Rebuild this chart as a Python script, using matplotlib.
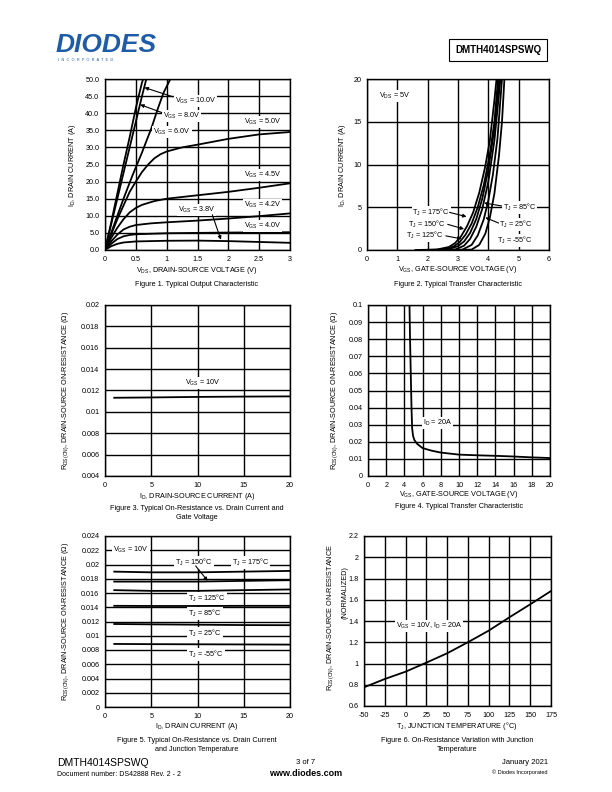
import matplotlib
matplotlib.use("Agg")
import matplotlib.pyplot as plt

plt.rcParams['font.family'] = ['Liberation Sans', 'DejaVu Sans']
plt.rcParams['mathtext.fontset'] = 'custom'
plt.rcParams['mathtext.rm'] = 'Liberation Sans'
plt.rcParams['mathtext.it'] = 'Liberation Sans:italic'
plt.rcParams['mathtext.bf'] = 'Liberation Sans:bold'
plt.rcParams['axes.unicode_minus'] = False

# ---- data ----
# Fig 1: output characteristic, (VDS, ID) per VGS
f1_v10 = [0, 0.1, 0.2, 0.3, 0.4, 0.5, 0.6, 0.62]
f1_i10 = [0, 8, 16.5, 25, 33, 41.5, 49, 50]
f1_v8 = [0, 0.1, 0.2, 0.3, 0.4, 0.5, 0.6, 0.67]
f1_i8 = [0, 7.5, 15, 22.5, 30, 37.5, 45, 50]
f1_v6 = [0, 0.1, 0.2, 0.3, 0.45, 0.6, 0.67, 0.75, 0.86, 0.95, 1.06]
f1_i6 = [0, 5, 10, 15, 22, 28.5, 31.8, 35.5, 41.5, 46, 50]
f1_v5 = [0, 0.1, 0.2, 0.3, 0.4, 0.5, 0.6, 0.7, 0.8, 0.9, 1.0, 1.25, 1.5, 2.0, 2.5, 3.0]
f1_i5 = [0, 4.5, 9, 13, 17, 20, 22.8, 25, 26.8, 28, 28.8, 30, 30.8, 32.5, 33.8, 34.5]
f1_v45 = [0, 0.1, 0.2, 0.3, 0.4, 0.5, 0.6, 0.8, 1.0, 1.5, 2.0, 2.5, 3.0]
f1_i45 = [0, 3.5, 6.5, 9, 11, 12.3, 13.2, 14.3, 15, 16, 17, 18.2, 19.5]
f1_v42 = [0, 0.1, 0.2, 0.3, 0.4, 0.5, 0.75, 1.0, 1.5, 2.0, 2.5, 3.0]
f1_i42 = [0, 2.5, 4.5, 6, 6.8, 7.3, 7.8, 8.1, 8.6, 9.2, 9.9, 10.7]
f1_v40 = [0, 0.1, 0.2, 0.3, 0.4, 0.5, 1.0, 1.5, 2.0, 2.5, 3.0]
f1_i40 = [0, 1.8, 3.2, 4, 4.4, 4.6, 4.9, 5.0, 5.1, 5.15, 5.2]
f1_v38 = [0, 0.1, 0.2, 0.3, 0.5, 1.0, 1.5, 2.0, 2.5, 3.0]
f1_i38 = [0, 1.1, 1.8, 2.2, 2.5, 2.7, 2.75, 2.6, 2.35, 2.1]

# Fig 2: transfer characteristic, (VGS, ID) per TJ
f2_v175 = [1.6, 2.3, 2.7, 2.9, 3.1, 3.3, 3.5, 3.7, 3.9, 4.05, 4.2, 4.27]
f2_i175 = [0, 0.05, 0.35, 0.8, 1.6, 2.8, 4.4, 6.7, 9.8, 12.8, 17.5, 20]
f2_v150 = [1.8, 2.5, 2.85, 3.05, 3.25, 3.45, 3.65, 3.85, 4.05, 4.2, 4.32]
f2_i150 = [0, 0.05, 0.4, 0.9, 1.8, 3.1, 5.0, 7.6, 11.2, 15, 20]
f2_v125 = [2.0, 2.65, 3.0, 3.2, 3.4, 3.6, 3.8, 4.0, 4.2, 4.36]
f2_i125 = [0, 0.05, 0.45, 1.0, 2.0, 3.6, 6.0, 9.4, 14.2, 20]
f2_v85 = [2.3, 2.9, 3.2, 3.4, 3.6, 3.8, 4.0, 4.2, 4.4]
f2_i85 = [0, 0.05, 0.5, 1.3, 2.7, 4.8, 8.0, 12.8, 20]
f2_v25 = [2.6, 3.15, 3.45, 3.65, 3.85, 4.0, 4.15, 4.3, 4.45]
f2_i25 = [0, 0.05, 0.6, 1.7, 3.6, 5.8, 8.8, 13, 20]
f2_vm55 = [3.0, 3.45, 3.7, 3.9, 4.05, 4.2, 4.35, 4.45, 4.53]
f2_im55 = [0, 0.05, 0.6, 1.9, 3.8, 6.6, 11, 15, 20]

# Fig 3: RDS(ON) vs ID at VGS = 10V
f3_id = [1, 5, 8, 10, 15, 20]
f3_r = [0.01132, 0.01135, 0.01138, 0.0114, 0.01143, 0.01145]

# Fig 4: RDS(ON) vs VGS at ID = 20A
f4_vgs = [4.56, 4.62, 4.7, 4.78, 4.85, 4.95, 5.1, 5.4, 6, 7, 8, 10, 12, 14, 16, 18, 20]
f4_r = [0.1, 0.08, 0.06, 0.04, 0.028, 0.0235, 0.021, 0.0188, 0.0163, 0.0148,
        0.0137, 0.0125, 0.0121, 0.0118, 0.0114, 0.0109, 0.0105]

# Fig 5: RDS(ON) vs ID per TJ
f5_id = [1, 5, 10, 15, 20]
f5_rm55 = [0.00885, 0.00882, 0.0088, 0.00878, 0.00876]
f5_r25 = [0.01165, 0.0116, 0.01155, 0.0115, 0.01148]
f5_r85 = [0.0142, 0.01418, 0.01418, 0.0142, 0.0142]
f5_r125 = [0.0164, 0.0163, 0.0163, 0.0164, 0.0165]
f5_r150 = [0.0176, 0.0176, 0.0176, 0.0177, 0.0178]
f5_r175 = [0.0190, 0.0189, 0.0189, 0.0190, 0.0191]

# Fig 6: normalized RDS(ON) vs TJ
f6_tj = [-50, -25, 0, 25, 50, 75, 100, 125, 150, 175]
f6_r = [0.776, 0.854, 0.923, 1.008, 1.096, 1.2, 1.309, 1.435, 1.557, 1.682]

W, H = 612, 792
fig = plt.figure(figsize=(W / 100, H / 100), dpi=100)

FS = 5.2
LW = 1.3
box = dict(facecolor='white', edgecolor='none', pad=0.6)


def add_ax(l, t, r, b):
    ax = fig.add_axes([l / W, 1 - b / H, (r - l) / W, (b - t) / H])
    ax.grid(True, color='black', linewidth=1.0)
    ax.set_axisbelow(True)
    for s in ax.spines.values():
        s.set_linewidth(1.0)
    ax.tick_params(length=0, pad=4, labelsize=FS)
    return ax


def ftext(x, y, s, **kw):
    kw.setdefault('fontsize', FS)
    fig.text(x / W, 1 - y / H, s, **kw)


def arrow(ax, start, end):
    ax.annotate('', xy=end, xytext=start,
                arrowprops=dict(arrowstyle='-|>', color='black', lw=0.8,
                                mutation_scale=5, shrinkA=0, shrinkB=0))


def lab(ax, x, y, s, ha='left'):
    ax.text(x, y, s, fontsize=FS, ha=ha, va='center', bbox=box)


# header
ftext(56, 45, 'DIODES', fontsize=19, fontweight='bold', style='italic',
      color='#1f5ca8', va='center', ha='left')
ftext(58, 60, 'I  N  C  O  R  P  O  R  A  T  E  D', fontsize=2.8, color='#1f5ca8',
      va='center', ha='left')
ftext(498, 50, 'DMTH4014SPSWQ', fontsize=7, fontweight='bold', ha='center', va='center',
      bbox=dict(facecolor='white', edgecolor='black', linewidth=0.8, pad=4))

# ---- Figure 1 ----
ax1 = add_ax(105, 79, 290, 250)
for v, i in [(f1_v10, f1_i10), (f1_v8, f1_i8), (f1_v6, f1_i6), (f1_v5, f1_i5),
             (f1_v45, f1_i45), (f1_v42, f1_i42), (f1_v40, f1_i40), (f1_v38, f1_i38)]:
    ax1.plot(v, i, color='black', lw=LW)
ax1.set_xlim(0, 3)
ax1.set_ylim(0, 50)
ax1.set_xticks([0, 0.5, 1, 1.5, 2, 2.5, 3])
ax1.set_xticklabels(['0', '0.5', '1', '1.5', '2', '2.5', '3'])
ax1.set_yticks(range(0, 51, 5))
ax1.set_yticklabels(['%.1f' % v for v in range(0, 51, 5)])
lab(ax1, 1.13, 43.6, r'V$_{\rm GS}$ = 10.0V')
lab(ax1, 0.94, 39.2, r'V$_{\rm GS}$ = 8.0V')
lab(ax1, 0.78, 34.5, r'V$_{\rm GS}$ = 6.0V')
lab(ax1, 2.25, 37.4, r'V$_{\rm GS}$ = 5.0V')
lab(ax1, 2.25, 22.0, r'V$_{\rm GS}$ = 4.5V')
lab(ax1, 2.25, 13.2, r'V$_{\rm GS}$ = 4.2V')
lab(ax1, 2.25, 7.0, r'V$_{\rm GS}$ = 4.0V')
lab(ax1, 1.18, 11.7, r'V$_{\rm GS}$ = 3.8V')
arrow(ax1, (1.1, 44.8), (0.64, 47.5))
arrow(ax1, (0.92, 40.2), (0.57, 42.5))
arrow(ax1, (1.74, 10.3), (1.88, 3.0))
ftext(72, 165, r'I$_{\rm D}$, DRAIN CURRENT (A)', rotation=90, ha='center', va='center')
ftext(197, 271, r'V$_{\rm DS}$, DRAIN-SOURCE VOLTAGE (V)', ha='center', va='center')
ftext(197, 284, 'Figure 1. Typical Output Characteristic', ha='center', va='center')

# ---- Figure 2 ----
ax2 = add_ax(367, 79, 549, 250)
for v, i in [(f2_v175, f2_i175), (f2_v150, f2_i150), (f2_v125, f2_i125),
             (f2_v85, f2_i85), (f2_v25, f2_i25), (f2_vm55, f2_im55)]:
    ax2.plot(v, i, color='black', lw=LW)
ax2.set_xlim(0, 6)
ax2.set_ylim(0, 20)
ax2.set_xticks(range(0, 7))
ax2.set_yticks([0, 5, 10, 15, 20])
lab(ax2, 0.4, 18, r'V$_{\rm DS}$ = 5V')
lab(ax2, 4.47, 5.0, 'T$_{\\rm J}$ = 85°C')
lab(ax2, 1.5, 4.4, 'T$_{\\rm J}$ = 175°C')
lab(ax2, 1.34, 3.0, 'T$_{\\rm J}$ = 150°C')
lab(ax2, 1.29, 1.65, 'T$_{\\rm J}$ = 125°C')
lab(ax2, 4.36, 2.95, 'T$_{\\rm J}$ = 25°C')
lab(ax2, 4.28, 1.1, 'T$_{\\rm J}$ = -55°C')
arrow(ax2, (4.44, 5.15), (3.86, 5.5))
arrow(ax2, (2.72, 4.4), (3.28, 3.9))
arrow(ax2, (2.66, 3.0), (3.2, 2.45))
arrow(ax2, (2.6, 1.65), (3.12, 1.3))
arrow(ax2, (4.34, 3.15), (3.9, 3.8))
ftext(342, 165, r'I$_{\rm D}$, DRAIN CURRENT (A)', rotation=90, ha='center', va='center')
ftext(458, 270, r'V$_{\rm GS}$, GATE-SOURCE VOLTAGE (V)', ha='center', va='center')
ftext(458, 284, 'Figure 2. Typical Transfer Characteristic', ha='center', va='center')

# ---- Figure 3 ----
ax3 = add_ax(105, 305, 290, 476)
ax3.plot(f3_id, f3_r, color='black', lw=LW)
ax3.set_xlim(0, 20)
ax3.set_ylim(0.004, 0.02)
ax3.set_xticks([0, 5, 10, 15, 20])
f3_yt = [0.004, 0.006, 0.008, 0.01, 0.012, 0.014, 0.016, 0.018, 0.02]
ax3.set_yticks(f3_yt)
ax3.set_yticklabels(['%g' % v for v in f3_yt])
lab(ax3, 8.7, 0.0127, r'V$_{\rm GS}$ = 10V')
ftext(66, 390, r'R$_{\rm DS(ON)}$, DRAIN-SOURCE ON-RESISTANCE (Ω)', rotation=90,
      ha='center', va='center')
ftext(197, 496, r'I$_{\rm D}$, DRAIN-SOURCE CURRENT (A)', ha='center', va='center')
ftext(197, 513, 'Figure 3. Typical On-Resistance vs. Drain Current and\nGate Voltage',
      ha='center', va='center', linespacing=1.3)

# ---- Figure 4 ----
ax4 = add_ax(368, 305, 550, 476)
ax4.plot(f4_vgs, f4_r, color='black', lw=LW)
ax4.set_xlim(0, 20)
ax4.set_ylim(0, 0.1)
ax4.set_xticks(range(0, 21, 2))
f4_yt = [0, 0.01, 0.02, 0.03, 0.04, 0.05, 0.06, 0.07, 0.08, 0.09, 0.1]
ax4.set_yticks(f4_yt)
ax4.set_yticklabels(['%g' % v for v in f4_yt])
lab(ax4, 6.0, 0.031, r'I$_{\rm D}$ = 20A')
ftext(335, 390, r'R$_{\rm DS(ON)}$, DRAIN-SOURCE ON-RESISTANCE (Ω)', rotation=90,
      ha='center', va='center')
ftext(459, 494, r'V$_{\rm GS}$, GATE-SOURCE VOLTAGE (V)', ha='center', va='center')
ftext(459, 507, 'Figure 4. Typical Transfer Characteristic', ha='center', va='center')

# ---- Figure 5 ----
ax5 = add_ax(105, 536, 290, 707)
for r in [f5_rm55, f5_r25, f5_r85, f5_r125, f5_r150, f5_r175]:
    ax5.plot(f5_id, r, color='black', lw=LW)
ax5.set_xlim(0, 20)
ax5.set_ylim(0, 0.024)
ax5.set_xticks([0, 5, 10, 15, 20])
f5_yt = [0, 0.002, 0.004, 0.006, 0.008, 0.01, 0.012, 0.014, 0.016, 0.018, 0.02, 0.022, 0.024]
ax5.set_yticks(f5_yt)
ax5.set_yticklabels(['%g' % v for v in f5_yt])
lab(ax5, 0.9, 0.022, r'V$_{\rm GS}$ = 10V')
lab(ax5, 7.6, 0.0203, 'T$_{\\rm J}$ = 150°C')
lab(ax5, 13.7, 0.0203, 'T$_{\\rm J}$ = 175°C')
lab(ax5, 9.0, 0.0152, 'T$_{\\rm J}$ = 125°C')
lab(ax5, 9.0, 0.0131, 'T$_{\\rm J}$ = 85°C')
lab(ax5, 9.0, 0.0103, 'T$_{\\rm J}$ = 25°C')
lab(ax5, 9.0, 0.0074, 'T$_{\\rm J}$ = -55°C')
arrow(ax5, (9.8, 0.0198), (11.1, 0.0177))
ftext(66, 621, r'R$_{\rm DS(ON)}$, DRAIN-SOURCE ON-RESISTANCE (Ω)', rotation=90,
      ha='center', va='center')
ftext(197, 727, r'I$_{\rm D}$, DRAIN CURRENT (A)', ha='center', va='center')
ftext(197, 745, 'Figure 5. Typical On-Resistance vs. Drain Current\nand Junction Temperature',
      ha='center', va='center', linespacing=1.3)

# ---- Figure 6 ----
ax6 = add_ax(364, 536, 551, 706)
ax6.plot(f6_tj, f6_r, color='black', lw=LW)
ax6.set_xlim(-50, 175)
ax6.set_ylim(0.6, 2.2)
ax6.set_xticks(range(-50, 176, 25))
f6_yt = [0.6, 0.8, 1, 1.2, 1.4, 1.6, 1.8, 2, 2.2]
ax6.set_yticks(f6_yt)
ax6.set_yticklabels(['%g' % v for v in f6_yt])
lab(ax6, -12, 1.35, r'V$_{\rm GS}$ = 10V, I$_{\rm D}$ = 20A')
ftext(331, 618, r'R$_{\rm DS(ON)}$, DRAIN-SOURCE ON-RESISTANCE', rotation=90,
      ha='center', va='center')
ftext(345, 593, '(NORMALIZED)', rotation=90, ha='center', va='center')
ftext(457, 726, 'T$_{\\rm J}$, JUNCTION TEMPERATURE (°C)', ha='center', va='center')
ftext(457, 745, 'Figure 6. On-Resistance Variation with Junction\nTemperature',
      ha='center', va='center', linespacing=1.3)

# footer
ftext(57, 763, 'DMTH4014SPSWQ', fontsize=7.5, ha='left', va='center')
ftext(57, 774, 'Document number: DS42888 Rev. 2 - 2', fontsize=5, ha='left', va='center')
ftext(306, 763, '3 of 7', fontsize=5.5, ha='center', va='center')
ftext(306, 773, 'www.diodes.com', fontsize=6.5, fontweight='bold', ha='center', va='center')
ftext(548, 763, 'January 2021', fontsize=5.5, ha='right', va='center')
ftext(548, 772, '© Diodes Incorporated', fontsize=4, ha='right', va='center')

fig.savefig('out.png', dpi=100)
